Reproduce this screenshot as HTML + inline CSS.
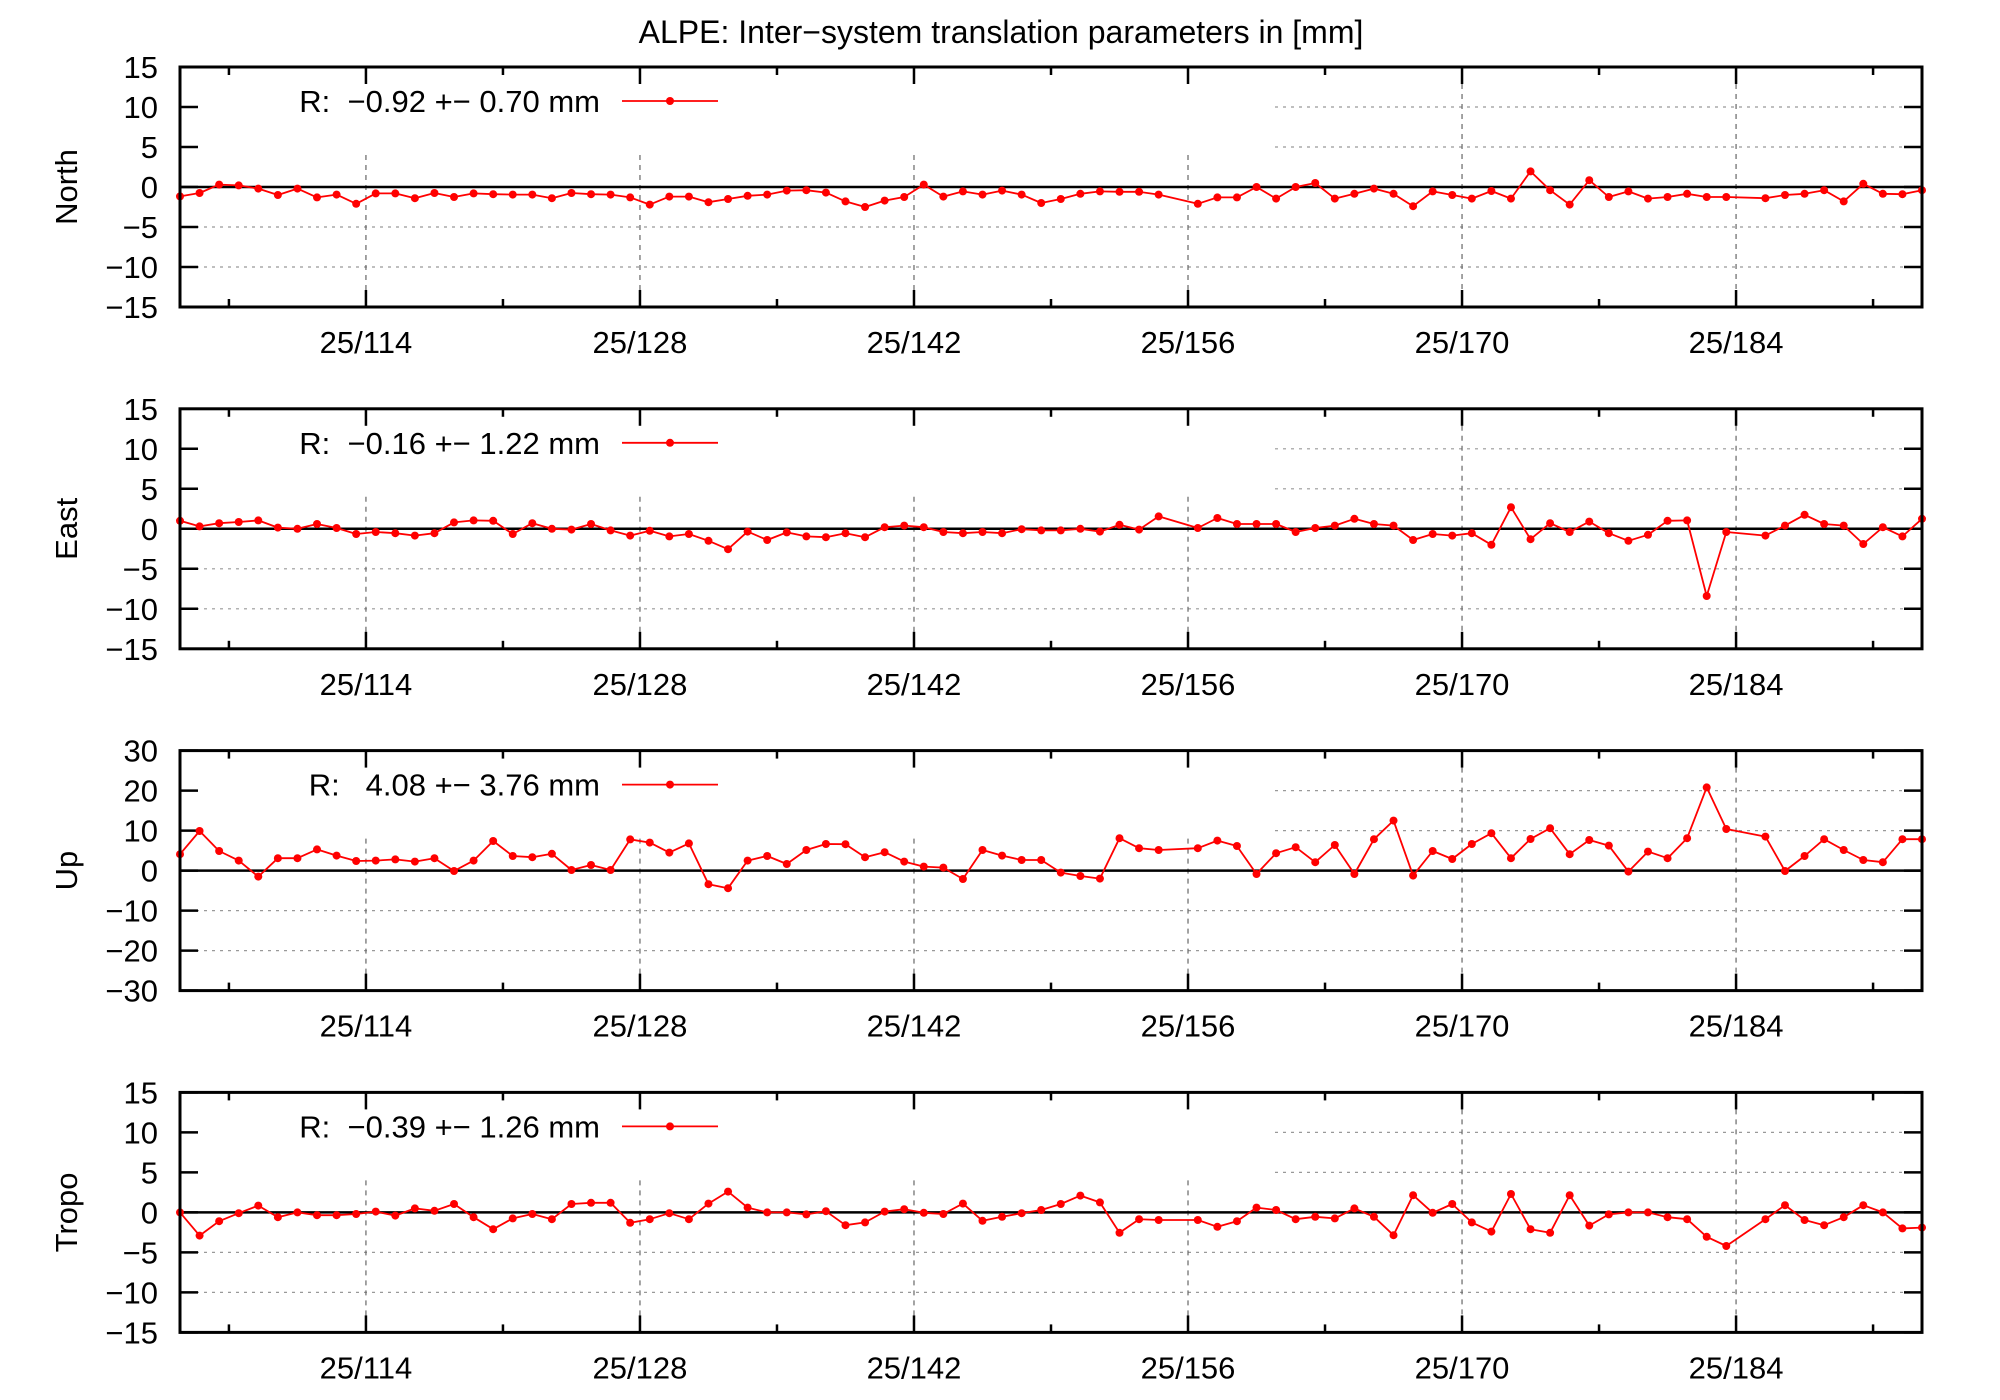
<!DOCTYPE html>
<html><head><meta charset="utf-8"><style>
html,body{margin:0;padding:0;background:#fff}
svg{display:block}
text{font-family:"Liberation Sans",sans-serif;fill:#000;white-space:pre}
</style></head><body>
<svg id="chart" width="2000" height="1400" viewBox="0 0 2000 1400" xmlns="http://www.w3.org/2000/svg">
<rect width="2000" height="1400" fill="#fff"/>
<text x="1001" y="43" font-size="32" text-anchor="middle">ALPE: Inter−system translation parameters in [mm]</text>
</svg>
<script>
const days=[104.5,105.5,106.5,107.5,108.5,109.5,110.5,111.5,112.5,113.5,114.5,115.5,116.5,117.5,118.5,119.5,120.5,121.5,122.5,123.5,124.5,125.5,126.5,127.5,128.5,129.5,130.5,131.5,132.5,133.5,134.5,135.5,136.5,137.5,138.5,139.5,140.5,141.5,142.5,143.5,144.5,145.5,146.5,147.5,148.5,149.5,150.5,151.5,152.5,153.5,154.5,155.5,156.5,157.5,158.5,159.5,160.5,161.5,162.5,163.5,164.5,165.5,166.5,167.5,168.5,169.5,170.5,171.5,172.5,173.5,174.5,175.5,176.5,177.5,178.5,179.5,180.5,181.5,182.5,183.5,184.5,185.5,186.5,187.5,188.5,189.5,190.5,191.5,192.5,193.5];
const north=[-1.17,-0.75,0.3,0.2,-0.2,-1.0,-0.2,-1.3,-0.95,-2.1,-0.8,-0.8,-1.4,-0.75,-1.25,-0.8,-0.9,-0.95,-0.95,-1.4,-0.75,-0.9,-0.95,-1.3,-2.2,-1.2,-1.2,-1.9,-1.5,-1.1,-0.95,-0.45,-0.4,-0.7,-1.8,-2.5,-1.7,-1.25,0.3,-1.2,-0.55,-0.95,-0.45,-0.95,-2.0,
-1.5,-0.85,-0.55,-0.6,-0.6,-0.95,null,-2.1,-1.3,-1.3,0,-1.45,0,0.5,-1.45,-0.85,-0.2,-0.85,-2.4,-0.55,-1.0,-1.45,-0.5,-1.45,1.95,-0.4,-2.2,0.85,-1.25,-0.55,-1.45,-1.25,-0.85,-1.25,-1.25,null,-1.4,-1.0,-0.85,-0.4,-1.8,0.4,-0.85,-0.9,-0.4];
const east=[1.0,0.3,0.7,0.85,1.05,0.15,0,0.6,0.1,-0.65,-0.4,-0.55,-0.85,-0.55,0.8,1.05,1.0,-0.65,0.7,0,-0.1,0.6,-0.2,-0.85,-0.25,-0.95,-0.65,-1.5,-2.55,-0.35,-1.4,-0.45,-0.95,-1.05,-0.55,-1.05,0.2,0.4,0.2,-0.4,-0.55,-0.4,-0.55,-0.05,-0.2,
-0.2,0,-0.35,0.5,-0.1,1.55,null,0.1,1.35,0.6,0.6,0.6,-0.4,0.1,0.4,1.25,0.6,0.4,-1.4,-0.65,-0.85,-0.55,-2.0,2.7,-1.3,0.7,-0.4,0.9,-0.55,-1.5,-0.75,1.0,1.05,-8.4,-0.4,null,-0.85,0.4,1.75,0.6,0.4,-1.9,0.2,-0.95,1.25];
const up=[4.1,9.9,4.9,2.5,-1.5,3.1,3.1,5.3,3.75,2.4,2.5,2.8,2.25,3.1,-0.1,2.5,7.4,3.65,3.35,4.2,0.15,1.4,0.15,7.8,7.0,4.5,6.8,-3.4,-4.4,2.5,3.65,1.65,5.15,6.65,6.6,3.35,4.6,2.25,1.0,0.75,-2.1,5.15,3.75,2.65,2.65,
-0.5,-1.35,-2.0,8.1,5.6,5.15,null,5.6,7.5,6.15,-0.85,4.35,5.85,2.1,6.4,-0.85,7.85,12.5,-1.25,4.9,2.9,6.65,9.35,3.1,7.9,10.6,4.1,7.65,6.25,-0.25,4.75,3.1,8.1,20.8,10.4,null,8.5,-0.1,3.65,7.85,5.15,2.65,2.1,7.85,7.85];
const tropo=[0,-2.9,-1.1,-0.1,0.85,-0.6,0,-0.35,-0.35,-0.2,0.1,-0.4,0.5,0.2,1.05,-0.6,-2.1,-0.75,-0.2,-0.85,1.05,1.2,1.2,-1.3,-0.85,-0.1,-0.85,1.1,2.6,0.6,0,0,-0.25,0.15,-1.6,-1.25,0.1,0.4,-0.05,-0.2,1.1,-1.05,-0.55,-0.1,0.3,
1.05,2.1,1.25,-2.55,-0.85,-0.95,null,-0.95,-1.8,-1.1,0.6,0.3,-0.85,-0.55,-0.75,0.5,-0.55,-2.85,2.15,-0.05,1.05,-1.25,-2.4,2.3,-2.1,-2.55,2.15,-1.65,-0.25,0,0,-0.6,-0.85,-3.05,-4.2,null,-0.85,0.9,-0.95,-1.6,-0.6,0.9,0,-2.0,-1.9];
const panelNames=["North","East","Up","Tropo"];
const legendLabels=["R:  −0.92 +− 0.70 mm","R:  −0.16 +− 1.22 mm","R:   4.08 +− 3.76 mm","R:  −0.39 +− 1.26 mm"];
const majorDays=[114,128,142,156,170,184];
const majorLabels=["25/114","25/128","25/142","25/156","25/170","25/184"];
const minorDays=[107,121,135,149,163,177,191];
const yTicksSmall=[-15,-10,-5,0,5,10,15];
const yTicksLarge=[-30,-20,-10,0,10,20,30];

const NS="http://www.w3.org/2000/svg";
const svg=document.getElementById('chart');
const L=180,R=1922,H=240,D0=104.5,D1=193.5;
function xs(d){return L+(d-D0)*(R-L)/(D1-D0);}
function mk(tag,attrs,parent){const e=document.createElementNS(NS,tag);for(const k in attrs)e.setAttribute(k,attrs[k]);(parent||svg).appendChild(e);return e;}
const series=[north,east,up,tropo];
for(let p=0;p<4;p++){
  const top=67+p*341.8, bot=top+H;
  const ticks=p===2?yTicksLarge:yTicksSmall;
  const ymin=ticks[0], ymax=ticks[ticks.length-1];
  const ys=v=>bot-(v-ymin)/(ymax-ymin)*H;
  const g=mk('g',{});
  
  
  const maskY=top+88, maskX=1275;
  ticks.forEach(v=>{
    if(v===0||v===ymin||v===ymax)return;
    const y=ys(v);
    const x0=y<maskY?maskX:L;
    const gl=mk('line',{x1:x0,x2:R-18,y1:y,y2:y,stroke:'#999','stroke-width':1.2,'stroke-dasharray':'3,5'},g);
    
    
  });
  majorDays.forEach(d=>{
    const x=xs(d);
    const gl=mk('line',{x1:x,x2:x,y1:x<maskX?maskY:top+17,y2:bot-17,stroke:'#666','stroke-width':1.2,'stroke-dasharray':'5,5'},g);
    
    
  });
  const z=mk('line',{x1:L,x2:R,y1:ys(0),y2:ys(0),stroke:'#000','stroke-width':2.5},g);
  
  
  ticks.forEach(v=>{
    const y=ys(v);
    mk('line',{x1:L,x2:L+18,y1:y,y2:y,stroke:'#000','stroke-width':2.5},g);
    mk('line',{x1:R-18,x2:R,y1:y,y2:y,stroke:'#000','stroke-width':2.5},g);
    const t=mk('text',{x:158,y:y+11,'font-size':31,'text-anchor':'end'},g);
    t.textContent=(v<0?'−':'')+Math.abs(v);
    
    
  });
  majorDays.forEach((d,i)=>{
    const x=xs(d);
    mk('line',{x1:x,x2:x,y1:bot,y2:bot-17,stroke:'#000','stroke-width':2.5},g);
    mk('line',{x1:x,x2:x,y1:top,y2:top+17,stroke:'#000','stroke-width':2.5},g);
    const t=mk('text',{x:x,y:bot+46,'font-size':31,'text-anchor':'middle'},g);
    t.textContent=majorLabels[i];
    
    
  });
  minorDays.forEach(d=>{
    const x=xs(d);
    mk('line',{x1:x,x2:x,y1:bot,y2:bot-8,stroke:'#000','stroke-width':2.5},g);
    mk('line',{x1:x,x2:x,y1:top,y2:top+8,stroke:'#000','stroke-width':2.5},g);
  });
  const vals=series[p];
  let dstr='';
  vals.forEach((v,i)=>{if(v===null)return;dstr+=(dstr?'L':'M')+xs(days[i]).toFixed(1)+','+ys(v).toFixed(1);});
  const line=mk('path',{d:dstr,fill:'none',stroke:'#f00','stroke-width':1.8,'stroke-linejoin':'round'},g);
  
  
  vals.forEach((v,i)=>{
    if(v===null)return;
    const c=mk('circle',{cx:xs(days[i]),cy:ys(v),r:4,fill:'#f00'},g);
    
    
  });
  const lt=mk('text',{x:600,y:top+45,'font-size':31,'text-anchor':'end','xml:space':'preserve'},g);
  lt.textContent=legendLabels[p];
  
  
  const ll=mk('line',{x1:622,x2:718,y1:top+34,y2:top+34,stroke:'#f00','stroke-width':1.8},g);
  
  
  mk('circle',{cx:670,cy:top+34,r:4,fill:'#f00'},g);
  const b=mk('rect',{x:L,y:top,width:R-L,height:H,fill:'none',stroke:'#000','stroke-width':3},g);
  
  
  const yt=mk('text',{x:0,y:0,'font-size':31,'text-anchor':'middle',transform:'translate(77,'+(top+H/2)+') rotate(-90)'},g);
  yt.textContent=panelNames[p];
  
  
}
</script>
</body></html>
